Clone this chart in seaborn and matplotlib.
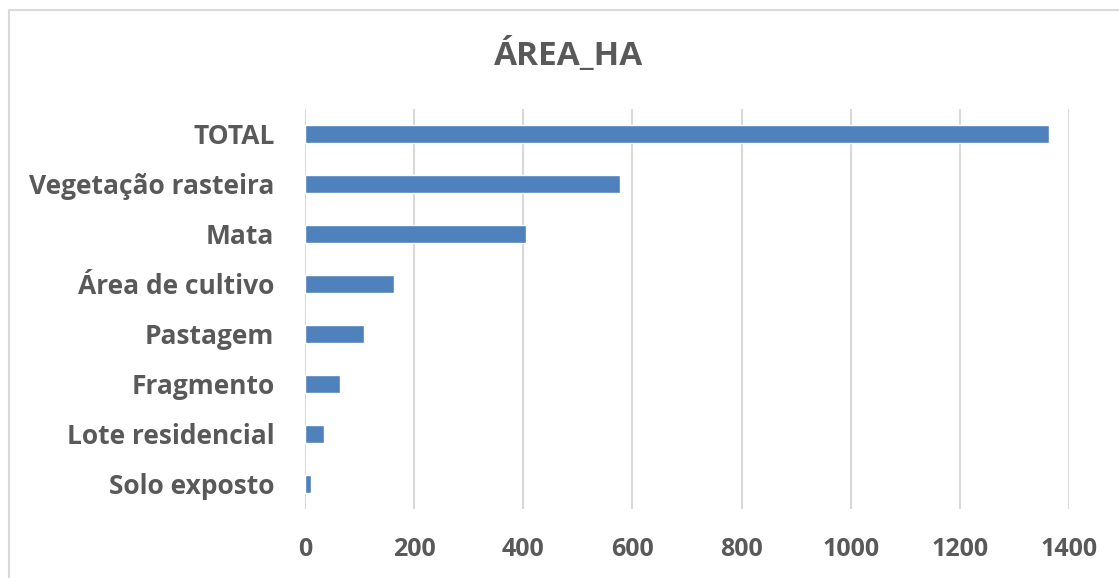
import matplotlib
matplotlib.use("Agg")
import matplotlib.pyplot as plt
import seaborn as sns
import pandas as pd
from matplotlib.patches import Rectangle

categories = ["TOTAL", "Vegetação rasteira", "Mata", "Área de cultivo",
              "Pastagem", "Fragmento", "Lote residencial", "Solo exposto"]
area_ha = [1364, 577, 405, 163, 109, 65, 34, 11]
x_ticks = [0, 200, 400, 600, 800, 1000, 1200, 1400]
title = "ÁREA_HA"

df = pd.DataFrame({"cat": categories, "area": area_ha})

sns.set_theme(style="white")
plt.rcParams['font.family'] = ['Open Sans', 'DejaVu Sans']

fig = plt.figure(figsize=(11.19, 5.78), dpi=100)
ax = fig.add_axes([305/1119, 1-509/578, (1069-305)/1119, 400/578])

sns.barplot(data=df, x="area", y="cat", orient="h", color="#4f81bd",
            saturation=1, width=0.35, ax=ax)

ax.set_xlim(0, 1400)
ax.set_ylim(7.5, -0.5)
ax.set_xticks(x_ticks)
ax.set_xticklabels([str(t) for t in x_ticks])
ax.set_xlabel("")
ax.set_ylabel("")
for s in ax.spines.values():
    s.set_visible(False)
ax.grid(axis="x", color="#d9d9d9", linewidth=1.5)
ax.set_axisbelow(True)
ax.tick_params(axis="both", length=0, labelcolor="#595959")
ax.tick_params(axis="x", pad=20, labelsize=18)
ax.tick_params(axis="y", pad=22, labelsize=19)
for lab in ax.get_xticklabels() + ax.get_yticklabels():
    lab.set_fontweight("bold")

fig.text(569/1119, 1-55/578, title, ha="center", va="center",
         fontsize=24, fontweight="bold", color="#595959")

fig.patches.append(Rectangle((9/1119, -0.1), 1.2, 1-10/578+0.1,
                             transform=fig.transFigure, fill=False,
                             edgecolor="#d9d9d9", linewidth=1.5))

fig.savefig("out.png", dpi=100)
